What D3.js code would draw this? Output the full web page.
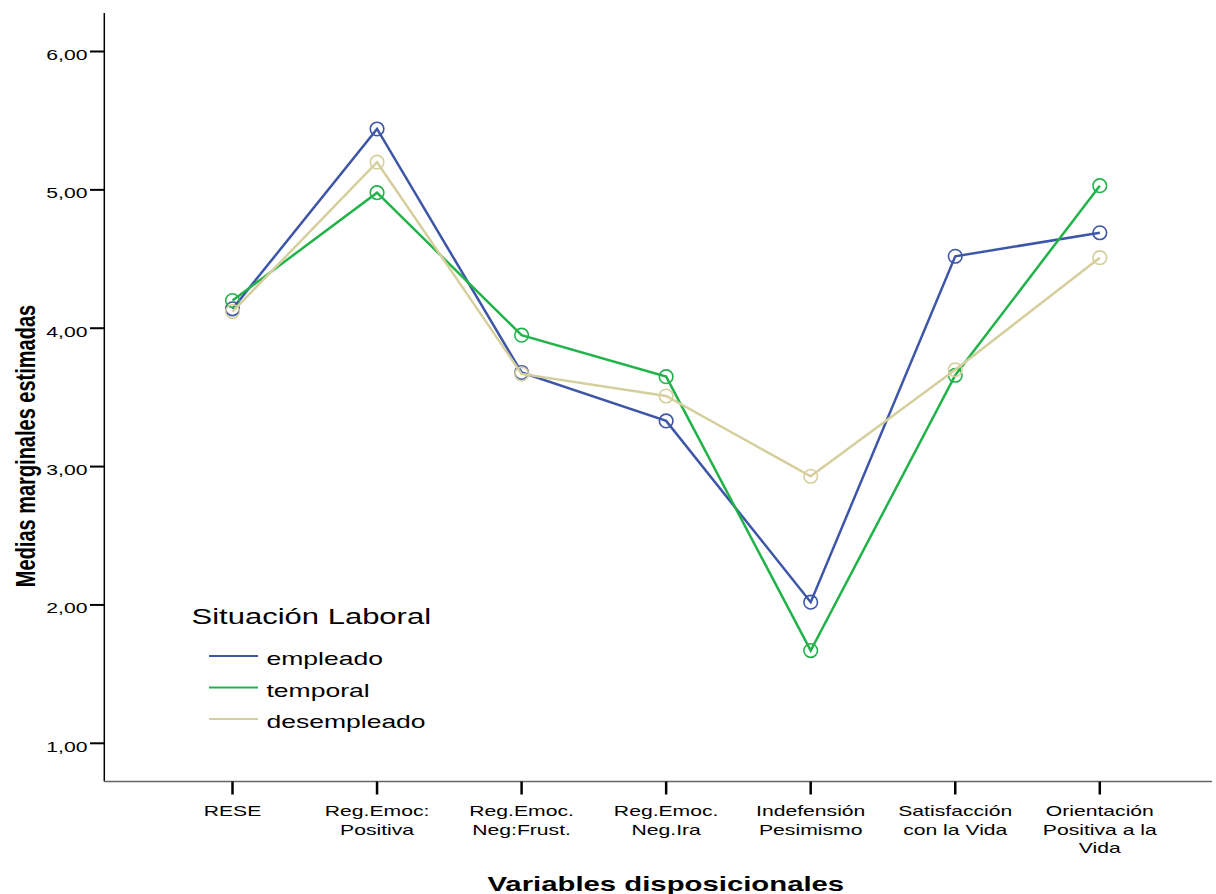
<!DOCTYPE html>
<html>
<head>
<meta charset="utf-8">
<script src="https://cdn.jsdelivr.net/npm/d3@7/dist/d3.min.js"></script>
<style>
  html, body { margin: 0; padding: 0; background: #fff; }
  svg { display: block; }
  text { font-family: "Liberation Sans", Arial, sans-serif; fill: #000; }
</style>
</head>
<body>
<script>
const categories = [
  ["RESE"],
  ["Reg.Emoc:", "Positiva"],
  ["Reg.Emoc.", "Neg:Frust."],
  ["Reg.Emoc.", "Neg.Ira"],
  ["Indefensión", "Pesimismo"],
  ["Satisfacción", "con la Vida"],
  ["Orientación", "Positiva a la", "Vida"]
];
const seriesNames = ["empleado", "temporal", "desempleado"];
const empleado    = [4.14, 5.44, 3.68, 3.33, 2.02, 4.52, 4.69];
const temporal    = [4.20, 4.98, 3.95, 3.65, 1.67, 3.66, 5.03];
const desempleado = [4.12, 5.20, 3.67, 3.51, 2.93, 3.70, 4.51];
const yTicks = [1, 2, 3, 4, 5, 6];
const colors = ["#3d56a8", "#22b24a", "#d5cf9d"];
const legendTitle = "Situación Laboral";
const xTitle = "Variables disposicionales";
const yTitle = "Medias marginales estimadas";

const W = 1216, H = 894;
const SX = 1.41; // horizontal stretch of text in the original
const svg = d3.select("body").append("svg").attr("width", W).attr("height", H);

const keys = categories.map((c, i) => "c" + i);
const x = d3.scalePoint().domain(keys).range([232.5, 1099.8]);
const y = d3.scaleLinear().domain([1, 6]).range([743.3, 51.5]);

const axisLeftX = 104.3, axisBottomY = 781.5, axisTopY = 13, axisRightX = 1212;

function stretchedText(g, tx, ty, str, opts) {
  const t = g.append("text")
    .attr("transform", `translate(${tx},${ty}) scale(${SX},1)` + (opts.rotate ? ` rotate(${opts.rotate})` : ""))
    .attr("text-anchor", opts.anchor || "start")
    .style("font-size", opts.size + "px")
    .style("font-weight", opts.weight || "normal")
    .text(str);
  return t;
}

// Y axis
svg.append("line").attr("x1", axisLeftX).attr("x2", axisLeftX)
  .attr("y1", axisTopY).attr("y2", axisBottomY)
  .attr("stroke", "#000").attr("stroke-width", 1.5);
const yAxis = svg.append("g");
yTicks.forEach(v => {
  yAxis.append("line").attr("x1", 90).attr("x2", axisLeftX)
    .attr("y1", y(v)).attr("y2", y(v)).attr("stroke", "#000").attr("stroke-width", 2);
  stretchedText(yAxis, 87.5, y(v) + 8.5, d3.format(".2f")(v).replace(".", ","), {anchor: "end", size: 15});
});

// X axis
svg.append("line").attr("x1", axisLeftX).attr("x2", axisRightX)
  .attr("y1", axisBottomY).attr("y2", axisBottomY)
  .attr("stroke", "#666").attr("stroke-width", 1.3);
const xAxis = svg.append("g");
categories.forEach((lines, i) => {
  const cx = x(keys[i]);
  xAxis.append("line").attr("x1", cx).attr("x2", cx)
    .attr("y1", axisBottomY).attr("y2", 794.5).attr("stroke", "#000").attr("stroke-width", 2.5);
  lines.forEach((ln, j) => {
    stretchedText(xAxis, cx, 816 + j * 18.7, ln, {anchor: "middle", size: 15});
  });
});

// Axis titles
stretchedText(svg, 665.8, 891, xTitle, {anchor: "middle", size: 20.8, weight: "bold"});
stretchedText(svg, 35, 446, yTitle, {anchor: "middle", size: 20, weight: "bold", rotate: -90});

// Series
const allSeries = [empleado, temporal, desempleado];
const line = d3.line().x((d, i) => x(keys[i])).y(d => y(d));
allSeries.forEach((vals, s) => {
  const g = svg.append("g");
  g.append("path").attr("d", line(vals)).attr("fill", "none")
    .attr("stroke", colors[s]).attr("stroke-width", 2.5).attr("stroke-linejoin", "miter");
  g.selectAll("circle").data(vals).enter().append("circle")
    .attr("cx", (d, i) => x(keys[i])).attr("cy", d => y(d)).attr("r", 6.8)
    .attr("fill", "none").attr("stroke", colors[s]).attr("stroke-width", 1.6);
});

// Legend
const lg = svg.append("g");
stretchedText(lg, 191.5, 624, legendTitle, {size: 22});
seriesNames.forEach((name, i) => {
  const ly = 656 + i * 31.5;
  lg.append("line").attr("x1", 209).attr("x2", 258).attr("y1", ly).attr("y2", ly)
    .attr("stroke", colors[i]).attr("stroke-width", 2);
  stretchedText(lg, 266.5, ly + 9, name, {size: 18.8});
});
</script>
</body>
</html>
